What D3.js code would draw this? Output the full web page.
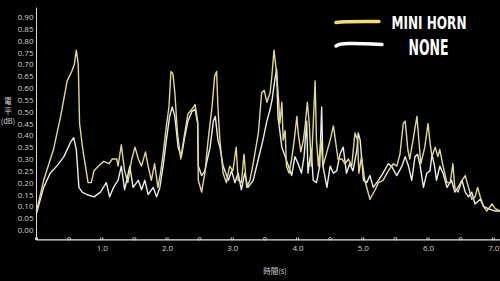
<!DOCTYPE html>
<html>
<head>
<meta charset="utf-8">
<script src="https://cdn.jsdelivr.net/npm/d3@7"></script>
<style>
  html, body { margin: 0; padding: 0; background: #000; }
  #winArea { width: 500px; height: 281px; overflow: hidden; }
</style>
</head>
<body>
<div id="winArea"></div>
<script>
// series: time (s) and level
const miniHornT = [0.00,0.11,0.26,0.37,0.47,0.54,0.58,0.61,0.64,0.66,0.71,0.75,0.79,0.84,0.88,0.95,1.03,1.11,1.16,1.23,
  1.25,1.30,1.35,1.40,1.46,1.51,1.56,1.61,1.67,1.71,1.76,1.81,1.86,1.90,1.94,1.99,2.03,2.06,2.09,2.12,2.16,2.21,2.26,2.32,2.38,2.43,2.47,
  2.48,2.53,2.58,2.63,2.69,2.73,2.76,2.78,2.81,2.86,2.91,2.96,3.01,3.06,3.09,3.14,3.18,3.22,3.27,3.32,3.40,3.45,3.49,3.53,3.58,3.61,3.64,3.68,
  3.71,3.73,3.76,3.78,3.81,3.83,3.87,3.91,3.95,3.99,4.01,4.05,4.09,4.12,4.15,4.18,4.21,4.23,4.27,4.29,4.32,4.36,4.39,4.45,4.50,4.55,4.58,4.62,
  4.68,4.73,4.78,4.83,4.88,4.92,4.94,4.98,5.03,5.11,5.19,5.24,5.31,5.39,5.47,5.52,5.57,5.62,5.65,5.69,5.72,5.77,5.83,5.85,5.89,5.95,6.00,
  6.03,6.06,6.11,6.15,6.18,6.23,6.29,6.34,6.38,6.41,6.46,6.52,6.57,6.62,6.67,6.72,6.76,6.80,6.85,6.90,6.98,7.03,7.10];
const miniHornV = [0.08,0.21,0.34,0.48,0.63,0.67,0.70,0.76,0.70,0.45,0.34,0.27,0.20,0.20,0.25,0.27,0.29,0.28,0.30,0.30,
  0.27,0.36,0.25,0.20,0.30,0.35,0.30,0.27,0.33,0.27,0.21,0.28,0.18,0.24,0.32,0.44,0.52,0.67,0.66,0.58,0.41,0.30,0.39,0.49,0.51,0.53,0.46,
  0.21,0.16,0.24,0.38,0.52,0.65,0.67,0.52,0.38,0.24,0.20,0.27,0.25,0.35,0.21,0.20,0.32,0.18,0.21,0.28,0.41,0.58,0.59,0.54,0.58,0.66,0.76,0.66,
  0.55,0.45,0.54,0.38,0.42,0.27,0.24,0.30,0.38,0.48,0.41,0.33,0.38,0.45,0.54,0.45,0.27,0.38,0.63,0.38,0.27,0.38,0.27,0.33,0.38,0.44,0.38,0.30,
  0.30,0.28,0.30,0.27,0.41,0.38,0.24,0.31,0.21,0.13,0.17,0.20,0.21,0.25,0.28,0.27,0.32,0.45,0.46,0.34,0.30,0.38,0.48,0.41,0.28,0.35,0.45,
  0.37,0.31,0.35,0.31,0.34,0.27,0.20,0.20,0.28,0.18,0.16,0.21,0.23,0.18,0.13,0.14,0.18,0.14,0.10,0.08,0.11,0.09,0.08];

const noneT = [0.00,0.11,0.21,0.31,0.42,0.52,0.57,0.61,0.65,0.70,0.77,0.88,0.98,1.07,1.12,1.18,
  1.25,1.30,1.35,1.43,1.48,1.56,1.61,1.66,1.71,1.79,1.84,1.89,1.94,1.99,2.04,2.08,2.12,2.17,2.22,2.27,2.32,2.38,2.43,2.47,
  2.48,2.53,2.58,2.66,2.71,2.74,2.78,2.81,2.86,2.94,2.99,3.04,3.09,3.14,3.19,3.24,3.32,3.40,3.47,3.53,3.58,3.61,3.65,3.68,
  3.70,3.76,3.81,3.86,3.91,3.96,4.01,4.06,4.10,4.14,4.16,4.21,4.24,4.29,4.34,4.37,4.39,4.45,4.50,4.55,4.60,4.65,4.70,4.75,4.80,4.85,4.91,
  4.93,4.96,5.01,5.06,5.11,5.16,5.24,5.31,5.39,5.44,5.52,5.60,5.65,5.70,5.75,5.80,5.84,5.88,5.93,5.98,6.03,
  6.06,6.10,6.13,6.18,6.23,6.29,6.36,6.41,6.46,6.52,6.57,6.62,6.67,6.72,6.80,6.85,6.92,7.03,7.10];
const noneV = [0.07,0.18,0.24,0.27,0.31,0.37,0.39,0.34,0.18,0.16,0.15,0.14,0.16,0.20,0.14,0.18,
  0.21,0.27,0.17,0.27,0.18,0.21,0.17,0.21,0.15,0.18,0.14,0.18,0.27,0.38,0.48,0.52,0.48,0.35,0.31,0.39,0.46,0.50,0.51,0.45,
  0.27,0.23,0.25,0.35,0.46,0.48,0.38,0.35,0.27,0.21,0.25,0.20,0.24,0.17,0.24,0.18,0.21,0.30,0.38,0.46,0.51,0.55,0.63,0.68,
  0.48,0.35,0.31,0.27,0.23,0.31,0.28,0.24,0.31,0.46,0.24,0.34,0.21,0.20,0.27,0.52,0.27,0.18,0.27,0.24,0.25,0.32,0.35,0.24,0.28,0.25,0.34,
  0.41,0.38,0.21,0.20,0.23,0.18,0.21,0.24,0.28,0.27,0.23,0.27,0.31,0.27,0.21,0.31,0.32,0.27,0.18,0.24,0.25,
  0.32,0.27,0.21,0.27,0.24,0.18,0.21,0.16,0.18,0.21,0.16,0.14,0.16,0.11,0.13,0.10,0.09,0.08,0.08];

// axis ticks and legend labels
const yTicks = [0,0.05,0.10,0.15,0.20,0.25,0.30,0.35,0.40,0.45,0.50,0.55,0.60,0.65,0.70,0.75,0.80,0.85,0.90];
const xLabelTicks = [1,2,3,4,5,6,7];
const xHalfTicks = [0.5,1.5,2.5,3.5,4.5,5.5,6.5];
const seriesNames = ["MINI HORN", "NONE"];
const seriesColors = ["#e2d98a", "#ececec"];
const legendColors = ["#f0e070", "#ffffff"];

document.addEventListener("DOMContentLoaded", function () {
    drawChart();
});

function drawChart(){
    const width = 500, height = 281;

    const svg = d3.select("#winArea")
        .append("svg")
        .attr("width", width)
        .attr("height", height)
        .style("background", "#000");

    //scales
    const xScale = d3.scaleLinear().domain([0, 7]).range([36.5, 493.3]);
    const yScale = d3.scaleLinear().domain([0, 0.9]).range([230, 17]);
    const axisY = yScale(-0.042);

    //y axis labels (no tick lines)
    const yAxis = svg.append("g")
        .attr("transform", `translate(${xScale(0) - 3}, 0)`)
        .call(d3.axisLeft(yScale).tickValues(yTicks).tickSize(0).tickPadding(0).tickFormat(d3.format(".2f")));
    yAxis.select(".domain").remove();
    yAxis.selectAll("text")
        .style("fill", "#d0d0d0")
        .style("font-family", "'Open Sans', sans-serif")
        .style("font-size", "8px");

    //axis lines
    svg.append("line")
        .attr("x1", xScale(0)).attr("x2", xScale(0))
        .attr("y1", yScale(0.94)).attr("y2", axisY)
        .attr("stroke", "#dcdcdc").attr("stroke-width", 1);
    svg.append("line")
        .attr("x1", xScale(0)).attr("x2", width)
        .attr("y1", axisY).attr("y2", axisY)
        .attr("stroke", "#e6e6e6").attr("stroke-width", 1.3);

    //x axis: double ticks at whole seconds, little dots at half seconds
    const xAxis = svg.append("g")
        .attr("transform", `translate(0, ${axisY})`)
        .call(d3.axisBottom(xScale).tickValues(xLabelTicks).tickSize(0).tickPadding(5).tickFormat(d3.format(".1f")));
    xAxis.select(".domain").remove();
    xAxis.selectAll("text")
        .style("fill", "#d0d0d0")
        .style("font-family", "'Open Sans', sans-serif")
        .style("font-size", "8px");

    xLabelTicks.concat([0]).forEach(d => {
        [-1, 1].forEach(o => {
            svg.append("line")
                .attr("x1", xScale(d) + o).attr("x2", xScale(d) + o)
                .attr("y1", axisY - 2.5).attr("y2", axisY)
                .attr("stroke", "#e6e6e6").attr("stroke-width", 0.9);
        });
    });
    svg.selectAll(".halfTick")
        .data(xHalfTicks)
        .join("ellipse")
        .attr("class", "halfTick")
        .attr("cx", d => xScale(d))
        .attr("cy", axisY - 1.2)
        .attr("rx", 1.6).attr("ry", 1.2)
        .attr("fill", "none")
        .attr("stroke", "#e6e6e6").attr("stroke-width", 0.8);

    //axis titles
    svg.append("text")
        .attr("x", 275).attr("y", 274)
        .attr("text-anchor", "middle")
        .style("fill", "#d0d0d0")
        .style("font-family", "'Noto Sans CJK TC', sans-serif")
        .style("font-size", "7.5px")
        .text("時間(s)");

    ["電", "平", "(dB)"].forEach((t, i) => {
        svg.append("text")
            .attr("x", 8).attr("y", 104 + i * 10)
            .attr("text-anchor", "middle")
            .style("fill", "#d0d0d0")
            .style("font-family", "'Noto Sans CJK TC', sans-serif")
            .style("font-size", "7.5px")
            .text(t);
    });

    //lines
    const line = d3.line()
        .x(d => xScale(d[0]))
        .y(d => yScale(d[1]));

    const noneData = noneT.map((t, i) => [t, noneV[i]]);
    const hornData = miniHornT.map((t, i) => [t, miniHornV[i]]);

    svg.append("path")
        .datum(noneData)
        .attr("d", line)
        .attr("fill", "none")
        .attr("stroke", seriesColors[1])
        .attr("stroke-width", 1.4)
        .attr("stroke-linejoin", "round");

    svg.append("path")
        .datum(hornData)
        .attr("d", line)
        .attr("fill", "none")
        .attr("stroke", seriesColors[0])
        .attr("stroke-width", 1.4)
        .attr("stroke-linejoin", "round");

    //legend with brush-like strokes
    const strokes = [
        "M336,22.5 C348,21 366,21.5 379,21.5",
        "M336,46 C339,43 345,43.5 352,43.5 C362,43.5 372,44 382,44.5"
    ];
    const legendText = [
        {x: 429, y: 29, size: 18, len: 75},
        {x: 428.5, y: 55, size: 21, len: 40}
    ];
    seriesNames.forEach((name, i) => {
        svg.append("path")
            .attr("d", strokes[i])
            .attr("fill", "none")
            .attr("stroke", legendColors[i])
            .attr("stroke-width", 3.4)
            .attr("stroke-linecap", "round");
        svg.append("text")
            .attr("x", legendText[i].x)
            .attr("y", legendText[i].y)
            .attr("text-anchor", "middle")
            .attr("textLength", legendText[i].len)
            .attr("lengthAdjust", "spacingAndGlyphs")
            .style("fill", "#ffffff")
            .style("font-family", "'DejaVu Sans Condensed', 'Liberation Sans Narrow', sans-serif")
            .style("font-weight", "bold")
            .style("font-size", legendText[i].size + "px")
            .text(name);
    });
}
</script>
</body>
</html>
